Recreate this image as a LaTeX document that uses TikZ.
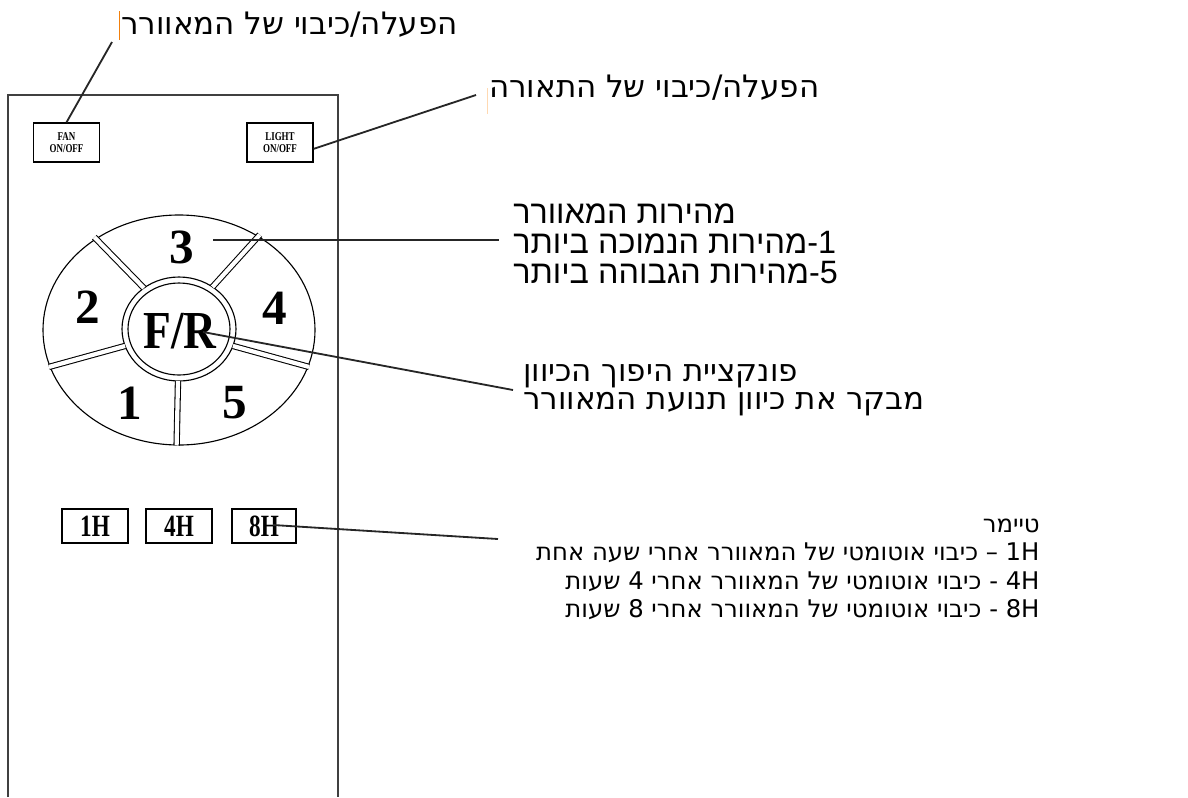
\documentclass[tikz,border=0pt]{standalone}
\usepackage{fontspec}
\setmainfont{Liberation Serif}
\newfontfamily\hebsans[Script=Hebrew]{DejaVu Sans}
\newfontfamily\hebarial[Script=Hebrew]{Liberation Sans}
\newfontfamily\keyfont{Liberation Serif}
\newfontfamily\btnfont[FakeStretch=0.75]{Liberation Serif}
\TeXXeTstate=1
\usepackage{tikz}
\usetikzlibrary{positioning}

\tikzset{
  body/.style={line width=1.3pt, black!75},
  lead/.style={line width=1.3pt, black!85},
  btnbox/.style={draw, line width=0.9pt, inner sep=0pt, minimum width=1.65cm},
  divider/.style={double, double distance=3pt, line width=0.75pt},
  keynum/.style={font=\keyfont\bfseries\fontsize{35}{35}\selectfont, inner sep=0pt},
  heb/.style={font=\hebsans\fontsize{22}{20}\selectfont, inner sep=0pt}
}

\begin{document}
\begin{tikzpicture}[x=0.025cm, y=-0.025cm]
  \useasboundingbox (0,0) rectangle (1188,797);

  % remote body
  \draw[body] (8,797) -- (8,95) -- (338,95) -- (338,797);

  % on/off buttons
  \node[btnbox, minimum height=0.975cm, font=\btnfont\bfseries\fontsize{8.5}{9}\selectfont, align=center] (fanbtn) at (66.5,142.5) {FAN\\ON/OFF};
  \node[btnbox, minimum height=0.975cm, font=\btnfont\bfseries\fontsize{8.5}{9}\selectfont, align=center] (lightbtn) at (280,142.5) {LIGHT\\ON/OFF};

  % speed keys
  \draw[line width=0.8pt] (179,330) ellipse [x radius=136, y radius=115];
  \draw[line width=0.8pt] (179,329) ellipse [x radius=57, y radius=52];
  \begin{scope}[shift={(179,329)}]
    \foreach \a in {232,306,161,19,91}
      \draw[divider] (\a:57 and 52) -- (\a:137.5 and 116.5);
  \end{scope}
  \draw[line width=0.8pt, fill=white] (179,329) ellipse [x radius=51, y radius=46];

  \node[keynum] (key3) at (182,247) {3};
  \node[keynum] (key2) at (88,307) {2};
  \node[keynum] (key4) at (275,308) {4};
  \node[keynum] (key1) at (130,403) {1};
  \node[keynum] (key5) at (235,403) {5};
  \node[keynum, font=\keyfont\bfseries\fontsize{38}{38}\selectfont] (keyfr) at (180,331) {\scalebox{0.85}[1]{F/R}};

  % timer buttons
  \node[btnbox, minimum height=0.85cm, font=\btnfont\bfseries\fontsize{22}{22}\selectfont] (t1) at (95,526) {1H};
  \node[btnbox, minimum height=0.85cm, font=\btnfont\bfseries\fontsize{22}{22}\selectfont] (t4) at (179,526) {4H};
  \node[btnbox, minimum height=0.85cm, minimum width=1.6cm, font=\btnfont\bfseries\fontsize{22}{22}\selectfont] (t8) at (264,526) {8H};

  % labels
  \node[heb, anchor=west] (fanlabel) at (121,25)
    {\beginR הפעלה/כיבוי של המאוורר\endR};
  \node[heb, anchor=west] (lightlabel) at (489,88)
    {\beginR הפעלה/כיבוי של התאורה\endR};
  \node[heb, font=\hebarial\fontsize{23}{21}\selectfont, align=left, anchor=north west] (speedlabel) at (513,204)
    {\beginR מהירות המאוורר\endR\\
     \beginR 1-מהירות הנמוכה ביותר\endR\\
     \beginR 5-מהירות הגבוהה ביותר\endR};
  \node[heb, align=left, anchor=north west] (dirlabel) at (523,364)
    {\beginR פונקציית היפוך הכיוון\endR\\
     \beginR מבקר את כיוון תנועת המאוורר\endR};
  \node[heb, font=\hebsans\fontsize{17.3}{20}\selectfont, align=right, anchor=north east] (timerlabel) at (1040,519)
    {\beginR טיימר\endR\\
     \beginR 1H – כיבוי אוטומטי של המאוורר אחרי שעה אחת\endR\\
     \beginR 4H - כיבוי אוטומטי של המאוורר אחרי 4 שעות\endR\\
     \beginR 8H - כיבוי אוטומטי של המאוורר אחרי 8 שעות\endR};

  % leader ends
  \coordinate (fanend) at (112,42);
  \coordinate (lightend) at (476,95);
  \coordinate (speedtip) at (213,240);
  \coordinate (speedend) at (499,240);
  \coordinate (frtip) at (203,332);
  \coordinate (frend) at (513,390);
  \coordinate (timertip) at (273,525);
  \coordinate (timerend) at (498,539);

  \draw[lead] (fanbtn.north) -- (fanend);
  \draw[lead] ([yshift=-4.5pt]lightbtn.east) -- (lightend);
  \draw[lead] (speedtip) -- (speedend);
  \draw[lead] (frtip) -- (frend);
  \draw[lead] (timertip) -- (timerend);

  % cursor marks
  \draw[orange!80!brown, line width=0.6pt] (119,11) -- (119,40);
  \draw[orange!30, line width=0.6pt] (487,88) -- (487,114);
\end{tikzpicture}
\end{document}
